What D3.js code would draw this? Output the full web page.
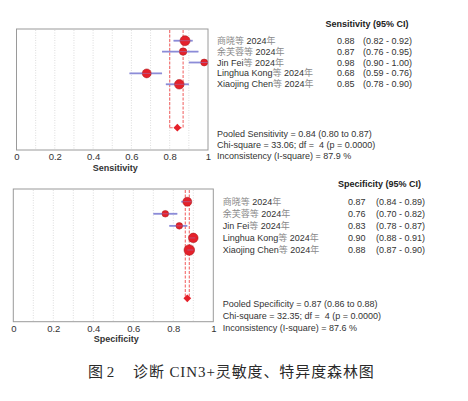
<!DOCTYPE html>
<html>
<head>
<meta charset="utf-8">
<script src="https://cdn.jsdelivr.net/npm/d3@7"></script>
<style>
	body { margin: 0; background: #fff; }
	text { font-family: "Liberation Sans", Arial, "Noto Sans CJK SC", sans-serif; white-space: pre; }
</style>
</head>
<body>
<svg id="chart"></svg>
<script>
'use strict'

// data
var studyNames = ["商晓等 2024年", "余芙蓉等 2024年", "Jin Fei等 2024年", "Linghua Kong等 2024年", "Xiaojing Chen等 2024年"];

var sensEst = [0.88, 0.87, 0.98, 0.68, 0.85],
	sensLo = [0.82, 0.76, 0.90, 0.59, 0.78],
	sensHi = [0.92, 0.95, 1.00, 0.76, 0.90],
	sensWeight = [25, 14, 12, 20, 23];

var specEst = [0.87, 0.76, 0.83, 0.90, 0.88],
	specLo = [0.84, 0.70, 0.78, 0.88, 0.87],
	specHi = [0.89, 0.82, 0.87, 0.91, 0.90],
	specWeight = [20, 11, 11, 23, 28];

var sensPooled = [0.84, 0.80, 0.87],
	specPooled = [0.87, 0.86, 0.88];

var sensStats = ["Pooled Sensitivity = 0.84 (0.80 to 0.87)", "Chi-square = 33.06; df =  4 (p = 0.0000)", "Inconsistency (I-square) = 87.9 %"],
	specStats = ["Pooled Specificity = 0.87 (0.86 to 0.88)", "Chi-square = 32.35; df =  4 (p = 0.0000)", "Inconsistency (I-square) = 87.6 %"];

var xTicks = [0, 0.2, 0.4, 0.6, 0.8, 1],
	gridTicks = [0.1, 0.2, 0.3, 0.4, 0.5, 0.6, 0.7, 0.8, 0.9];

var captionLabel = "图 2",
	captionText = "诊断 CIN3+灵敏度、特异度森林图";

var WIDTH = 468,
	HEIGHT = 401;

var markColor = "#e5202a",
	ciColor = "#8c8cd8",
	pooledColor = "#f26a6a";

var svg = d3.select("#chart")
	.attr("width", WIDTH)
	.attr("height", HEIGHT)

function fmt(v) { return v.toFixed(2) }

function drawPanel(cfg) {
	var g = svg.append("g")

	var x = d3.scaleLinear().domain([0, 1]).range([cfg.left, cfg.right])
	var y = d3.scaleLinear().domain([0, 4]).range([cfg.row0, cfg.row4])
	var r = d3.scaleSqrt().domain([0, 30]).range([0, 5.5])

	// box
	g.append("rect")
		.attr("x", cfg.left)
		.attr("y", cfg.top)
		.attr("width", cfg.right - cfg.left)
		.attr("height", cfg.bottom - cfg.top)
		.style("fill", "#fff")
		.style("stroke", "#9a9a9a")
		.style("stroke-width", 1)

	// dotted grid
	g.selectAll(".grid")
		.data(gridTicks)
		.enter().append("line")
		.attr("x1", function(d) { return x(d) })
		.attr("x2", function(d) { return x(d) })
		.attr("y1", cfg.top + 1)
		.attr("y2", cfg.bottom - 1)
		.style("stroke", "#d4d4d4")
		.style("stroke-width", 0.8)
		.style("stroke-dasharray", "1,1.5")

	// pooled CI lines
	var pooled = cfg.pooled
	;[pooled[1], pooled[2]].forEach(function(v) {
		g.append("line")
			.attr("x1", x(v)).attr("x2", x(v))
			.attr("y1", cfg.top + 1).attr("y2", cfg.diamondY)
			.style("stroke", pooledColor)
			.style("stroke-width", 1.1)
			.style("stroke-dasharray", "3,1.5")
	})
	g.append("line")
		.attr("x1", x(pooled[1])).attr("x2", x(pooled[2]))
		.attr("y1", cfg.diamondY).attr("y2", cfg.diamondY)
		.style("stroke", pooledColor)
		.style("stroke-width", 1.1)
		.style("stroke-dasharray", "3,1.5")

	g.append("path")
		.attr("d", d3.symbol(d3.symbolSquare, 30)())
		.attr("transform", "translate(" + x(pooled[0]) + "," + cfg.diamondY + ") rotate(45)")
		.style("fill", markColor)

	// study marks
	var idx = d3.range(cfg.est.length)

	g.selectAll(".ci")
		.data(idx)
		.enter().append("line")
		.attr("x1", function(i) { return x(cfg.lo[i]) })
		.attr("x2", function(i) { return x(cfg.hi[i]) })
		.attr("y1", function(i) { return y(i) })
		.attr("y2", function(i) { return y(i) })
		.style("stroke", ciColor)
		.style("stroke-width", 1.8)

	g.selectAll(".mark")
		.data(idx)
		.enter().append("circle")
		.attr("cx", function(i) { return x(cfg.est[i]) })
		.attr("cy", function(i) { return y(i) })
		.attr("r", function(i) { return r(cfg.weight[i]) })
		.style("fill", markColor)
		.style("stroke", "#a01818")
		.style("stroke-width", 0.5)

	// thin CI line showing through the markers
	g.selectAll(".ci2")
		.data(idx)
		.enter().append("line")
		.attr("x1", function(i) { return x(cfg.lo[i]) })
		.attr("x2", function(i) { return x(cfg.hi[i]) })
		.attr("y1", function(i) { return y(i) })
		.attr("y2", function(i) { return y(i) })
		.style("stroke", ciColor)
		.style("stroke-width", 1)
		.style("opacity", 0.45)

	// axis
	var axis = g.append("g")
		.attr("transform", "translate(0," + (cfg.bottom + 0.5) + ")")
		.call(d3.axisBottom(x).tickValues(xTicks).tickSize(0).tickFormat(d3.format("~g")))
	axis.select(".domain").remove()
	axis.selectAll("text")
		.style("font-family", '"Liberation Sans", Arial, sans-serif')
		.style("font-size", "9.5px")
		.style("fill", "#333")

	g.append("text")
		.attr("x", (cfg.left + cfg.right) / 2 + 3)
		.attr("y", cfg.bottom + 20.5)
		.attr("text-anchor", "middle")
		.style("font-size", "9px")
		.style("font-weight", "bold")
		.style("fill", "#333")
		.text(cfg.title)

	// right hand table
	g.append("text")
		.attr("x", cfg.headX)
		.attr("y", cfg.headY)
		.attr("text-anchor", "middle")
		.style("font-size", "9px")
		.style("font-weight", "bold")
		.style("fill", "#222")
		.text(cfg.title + " (95% CI)")

	idx.forEach(function(i) {
		var t = g.append("text")
			.attr("x", cfg.nameX)
			.attr("y", y(i) + 3)
			.style("font-size", "9px")
		// CJK parts render lighter in the figure
		studyNames[i].split(/([\u4e00-\u9fff]+)/).forEach(function(part) {
			if (!part) return
			t.append("tspan")
				.style("fill", /[\u4e00-\u9fff]/.test(part) ? "#8a8a8a" : "#333")
				.text(part)
		})

		g.append("text")
			.attr("x", cfg.valX)
			.attr("y", y(i) + 3)
			.style("font-size", "9px")
			.style("fill", "#333")
			.text(fmt(cfg.est[i]))

		g.append("text")
			.attr("x", cfg.ciX)
			.attr("y", y(i) + 3)
			.style("font-size", "9px")
			.style("fill", "#333")
			.text("(" + fmt(cfg.lo[i]) + " - " + fmt(cfg.hi[i]) + ")")
	})

	cfg.stats.forEach(function(s, k) {
		g.append("text")
			.attr("x", cfg.nameX)
			.attr("y", cfg.statY + k * cfg.statStep)
			.style("font-size", "9px")
			.style("fill", "#333")
			.text(s)
	})
}

drawPanel({
	title: "Sensitivity",
	est: sensEst, lo: sensLo, hi: sensHi, weight: sensWeight,
	pooled: sensPooled, stats: sensStats,
	left: 16.5, right: 208, top: 29, bottom: 150,
	row0: 40.7, row4: 84.3, diamondY: 127.7,
	nameX: 217, valX: 337, ciX: 363, headX: 367, headY: 27,
	statY: 137, statStep: 11
})

drawPanel({
	title: "Specificity",
	est: specEst, lo: specLo, hi: specHi, weight: specWeight,
	pooled: specPooled, stats: specStats,
	left: 13.3, right: 213.3, top: 189, bottom: 321.7,
	row0: 201.7, row4: 250, diamondY: 298.3,
	nameX: 222.7, valX: 348, ciX: 376, headX: 379.5, headY: 187,
	statY: 307, statStep: 12
})

// caption
var cap = svg.append("text")
	.attr("y", 376.5)
	.style("font-family", '"Liberation Serif", "Times New Roman", "Noto Sans CJK SC", serif')
	.style("font-size", "15px")
	.style("fill", "#2a2a2a")
cap.append("tspan").attr("x", 88).text(captionLabel)
cap.append("tspan").attr("x", 133).style("letter-spacing", "0.9px").text(captionText)
</script>
</body>
</html>
